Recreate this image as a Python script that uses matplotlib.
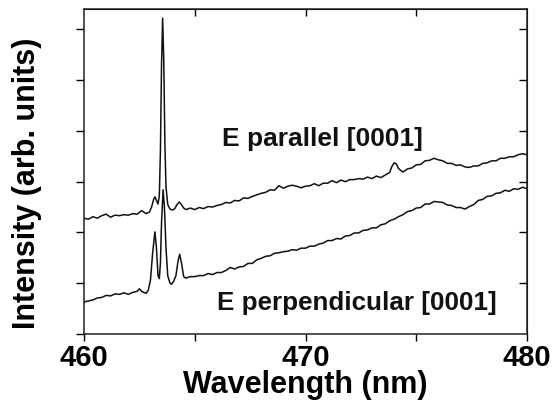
import numpy as np
import matplotlib
matplotlib.use("Agg")
import matplotlib.pyplot as plt

plt.rcParams['font.family'] = ['Liberation Sans', 'DejaVu Sans']
plt.rcParams['font.weight'] = 'bold'

# E parallel [0001]
wl_par = [460.0, 460.2, 460.4, 460.6, 460.8, 461.0, 461.2, 461.4, 461.6, 461.8,
          462.0, 462.2, 462.4, 462.6, 462.8, 462.95, 463.05, 463.15, 463.2, 463.27,
          463.34, 463.40, 463.45, 463.50, 463.55, 463.60, 463.65, 463.70, 463.78, 463.88,
          464.0, 464.1, 464.2, 464.3, 464.4, 464.5, 464.6, 464.8, 465.0, 465.2,
          465.4, 465.6, 465.8, 466.0, 466.2, 466.4, 466.6, 466.8, 467.0, 467.2,
          467.4, 467.6, 467.8, 468.0, 468.2, 468.4, 468.6, 468.8, 469.0, 469.2,
          469.4, 469.6, 469.8, 470.0, 470.2, 470.4, 470.6, 470.8, 471.0, 471.2,
          471.4, 471.6, 471.8, 472.0, 472.2, 472.4, 472.6, 472.8, 473.0, 473.2,
          473.4, 473.6, 473.8, 473.9, 474.0, 474.1, 474.2, 474.3, 474.4, 474.6,
          474.8, 475.0, 475.2, 475.4, 475.6, 475.8, 476.0, 476.2, 476.4, 476.6,
          476.8, 477.0, 477.2, 477.4, 477.6, 477.8, 478.0, 478.2, 478.4, 478.6,
          478.8, 479.0, 479.2, 479.4, 479.6, 479.8, 480.0]
int_par = [2.28, 2.26, 2.31, 2.28, 2.33, 2.36, 2.30, 2.34, 2.33, 2.35,
           2.34, 2.37, 2.36, 2.43, 2.37, 2.40, 2.50, 2.66, 2.70, 2.63,
           2.56, 2.72, 3.60, 5.30, 6.22, 5.40, 3.80, 2.90, 2.55, 2.46,
           2.44, 2.47, 2.55, 2.60, 2.55, 2.48, 2.45, 2.48, 2.45, 2.49,
           2.47, 2.51, 2.50, 2.53, 2.55, 2.59, 2.58, 2.63, 2.62, 2.68,
           2.67, 2.71, 2.74, 2.77, 2.79, 2.84, 2.83, 2.92, 2.87, 2.91,
           2.93, 2.91, 2.88, 2.91, 2.92, 2.96, 2.92, 2.97, 2.97, 3.02,
           2.98, 3.03, 3.00, 3.04, 3.04, 3.06, 3.05, 3.09, 3.06, 3.11,
           3.08, 3.13, 3.18, 3.30, 3.37, 3.35, 3.26, 3.22, 3.19, 3.25,
           3.27, 3.33, 3.34, 3.41, 3.42, 3.46, 3.43, 3.41, 3.36, 3.36,
           3.32, 3.33, 3.29, 3.28, 3.31, 3.31, 3.36, 3.37, 3.41, 3.41,
           3.46, 3.46, 3.49, 3.49, 3.53, 3.55, 3.53]

# E perpendicular [0001]
wl_perp = [460.0, 460.2, 460.4, 460.6, 460.8, 461.0, 461.2, 461.4, 461.6, 461.8,
           462.0, 462.2, 462.4, 462.5, 462.6, 462.8, 462.9, 463.0, 463.1, 463.2,
           463.27, 463.34, 463.40, 463.45, 463.50, 463.57, 463.63, 463.70, 463.78, 463.88,
           463.95, 464.05, 464.15, 464.25, 464.32, 464.40, 464.50, 464.6, 464.8, 465.0,
           465.2, 465.4, 465.6, 465.8, 466.0, 466.2, 466.4, 466.6, 466.8, 467.0,
           467.2, 467.4, 467.6, 467.8, 468.0, 468.2, 468.4, 468.6, 468.8, 469.0,
           469.2, 469.4, 469.6, 469.8, 470.0, 470.2, 470.4, 470.6, 470.8, 471.0,
           471.2, 471.4, 471.6, 471.8, 472.0, 472.2, 472.4, 472.6, 472.8, 473.0,
           473.2, 473.4, 473.6, 473.8, 474.0, 474.2, 474.4, 474.6, 474.8, 475.0,
           475.2, 475.4, 475.6, 475.8, 476.0, 476.2, 476.4, 476.6, 476.8, 477.0,
           477.2, 477.4, 477.6, 477.8, 478.0, 478.2, 478.4, 478.6, 478.8, 479.0,
           479.2, 479.4, 479.6, 479.8, 480.0]
int_perp = [0.63, 0.65, 0.67, 0.71, 0.72, 0.76, 0.75, 0.79, 0.78, 0.81,
            0.78, 0.82, 0.84, 0.89, 0.84, 0.80, 0.86, 1.06, 1.60, 2.01,
            1.70, 1.15, 1.09, 1.40, 2.20, 2.84, 2.50, 1.70, 1.15, 1.00,
            0.98, 1.04, 1.15, 1.45, 1.57, 1.40, 1.13, 1.10, 1.13, 1.13,
            1.15, 1.15, 1.19, 1.17, 1.21, 1.21, 1.25, 1.31, 1.28, 1.32,
            1.33, 1.39, 1.39, 1.46, 1.49, 1.53, 1.54, 1.59, 1.60, 1.62,
            1.63, 1.66, 1.65, 1.69, 1.69, 1.73, 1.73, 1.77, 1.79, 1.84,
            1.84, 1.88, 1.87, 1.93, 1.94, 1.99, 1.99, 2.04, 2.05, 2.09,
            2.09, 2.15, 2.17, 2.23, 2.26, 2.31, 2.35, 2.41, 2.43, 2.48,
            2.49, 2.56, 2.56, 2.61, 2.60, 2.59, 2.54, 2.53, 2.49, 2.49,
            2.46, 2.51, 2.55, 2.63, 2.65, 2.71, 2.72, 2.77, 2.78, 2.83,
            2.81, 2.86, 2.85, 2.89, 2.86]

fig = plt.figure(figsize=(5.52, 4.04), dpi=100)
ax = fig.add_axes([0.1522, 0.1733, 0.8025, 0.8044])

ax.plot(wl_par, int_par, color='#111111', lw=1.1)
ax.plot(wl_perp, int_perp, color='#111111', lw=1.1)

ax.set_xlim(460, 480)
ax.set_ylim(0, 6.4)
ax.set_xticks([460, 465, 470, 475, 480])
ax.set_xticklabels(['460', '', '470', '', '480'])
ax.set_yticks([0, 1, 2, 3, 4, 5, 6])
ax.set_yticklabels([])
ax.tick_params(axis='x', direction='out', length=5, width=1.0, labelsize=21, pad=2)
ax.tick_params(axis='y', direction='out', length=6, width=1.0)
for s in ax.spines.values():
    s.set_linewidth(1.1)
    s.set_color('#222222')

# inward ticks on the top and right frame
top = ax.secondary_xaxis('top')
top.set_xticks([465, 470, 475])
top.set_xticklabels([])
top.tick_params(direction='in', length=5, width=1.0)
right = ax.secondary_yaxis('right')
right.set_yticks([1, 2, 3, 4, 5, 6])
right.set_yticklabels([])
right.tick_params(direction='in', length=6, width=1.0)

ax.set_xlabel('Wavelength (nm)', fontsize=22, fontweight='bold', labelpad=-1)
ax.set_ylabel('Intensity (arb. units)', fontsize=22, fontweight='bold')
ax.yaxis.set_label_coords(-0.095, 0.465)

ax.text(466.23, 3.7, 'E parallel [0001]', fontsize=19, fontweight='bold', color='#111111')
ax.text(466.02, 0.47, 'E perpendicular [0001]', fontsize=18.7, fontweight='bold', color='#111111')

fig.savefig('out.png', dpi=100)
